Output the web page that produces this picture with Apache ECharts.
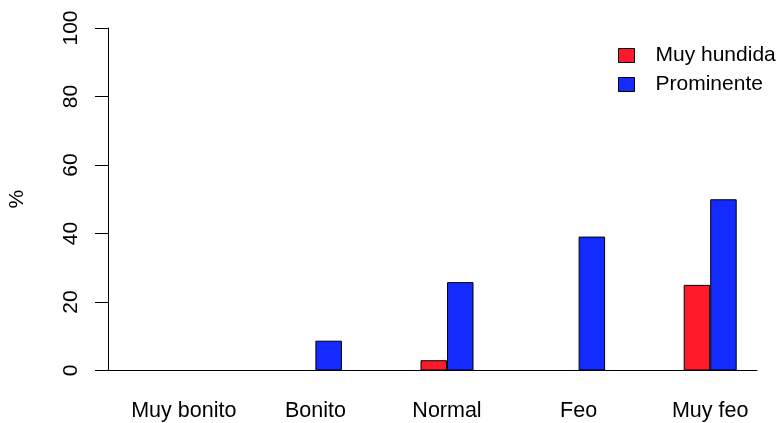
<!DOCTYPE html>
<html>
<head>
<meta charset="utf-8">
<script src="https://cdn.jsdelivr.net/npm/echarts@6/dist/echarts.min.js"></script>
<style>
  html, body { margin: 0; padding: 0; background: #fff; }
  #chart { width: 781px; height: 423px; }
</style>
</head>
<body>
<div id="chart"></div>
<script>
// Categories and percentages per group
const categories = ['Muy bonito', 'Bonito', 'Normal', 'Feo', 'Muy feo'];
const muyHundida = [0, 0, 3, 0, 25];
const prominente = [0, 8.7, 25.8, 39.1, 50];
const seriesNames = ['Muy hundida', 'Prominente'];
const yTicks = [0, 20, 40, 60, 80, 100];

const FONT = '"Liberation Sans", Arial, Helvetica, sans-serif';
const RED = '#FF1A2A';
const BLUE = '#142BFF';

const chart = echarts.init(document.getElementById('chart'), null, { renderer: 'canvas' });

const barStyle = (color) => ({ color: color, borderColor: '#000', borderWidth: 1 });

chart.setOption({
  animation: false,
  backgroundColor: '#fff',
  textStyle: { fontFamily: FONT },
  grid: [
    // bars
    { left: 118, right: 5, top: 28, bottom: 52.5, outerBoundsMode: 'none', containLabel: false },
    // frame holding the baseline
    { left: 100, right: 24, top: 28, bottom: 52.5, outerBoundsMode: 'none', containLabel: false }
  ],
  legend: {
    orient: 'vertical',
    left: 613,
    top: 40,
    itemWidth: 16,
    itemHeight: 14,
    itemGap: 8,
    icon: 'rect',
    data: seriesNames,
    itemStyle: { borderColor: '#000', borderWidth: 1 },
    textStyle: { fontFamily: FONT, fontSize: 21, color: '#000', padding: [0, 0, 0, 16] }
  },
  xAxis: [
    {
      type: 'category',
      gridIndex: 0,
      data: categories,
      boundaryGap: true,
      axisLine: { show: false },
      axisTick: { show: false },
      axisLabel: { color: '#000', fontSize: 21.5, fontFamily: FONT, margin: 30, interval: 0 }
    },
    {
      type: 'value',
      gridIndex: 1,
      min: 0,
      max: 1,
      axisLine: { show: true, lineStyle: { color: '#000', width: 1 } },
      axisTick: { show: false },
      axisLabel: { show: false },
      splitLine: { show: false }
    }
  ],
  yAxis: [
    {
      type: 'value',
      gridIndex: 0,
      min: yTicks[0],
      max: yTicks[yTicks.length - 1],
      interval: 20,
      offset: 10,
      name: '%',
      nameLocation: 'middle',
      nameRotate: 90,
      nameGap: 80,
      nameTextStyle: { color: '#000', fontSize: 21, fontFamily: FONT },
      axisLine: { show: true, lineStyle: { color: '#000', width: 1 } },
      axisTick: { show: true, length: 13, lineStyle: { color: '#000', width: 1 } },
      axisLabel: { color: '#000', fontSize: 21, fontFamily: FONT, rotate: 90, margin: 26 },
      splitLine: { show: false }
    },
    {
      type: 'value',
      gridIndex: 1,
      min: 0,
      max: 100,
      show: false
    }
  ],
  series: [
    {
      name: seriesNames[0],
      type: 'bar',
      xAxisIndex: 0,
      yAxisIndex: 0,
      data: muyHundida,
      barWidth: 26.5,
      barGap: '0%',
      itemStyle: barStyle(RED)
    },
    {
      name: seriesNames[1],
      type: 'bar',
      xAxisIndex: 0,
      yAxisIndex: 0,
      data: prominente,
      barWidth: 26.5,
      barGap: '0%',
      itemStyle: barStyle(BLUE)
    }
  ]
});
</script>
</body>
</html>
